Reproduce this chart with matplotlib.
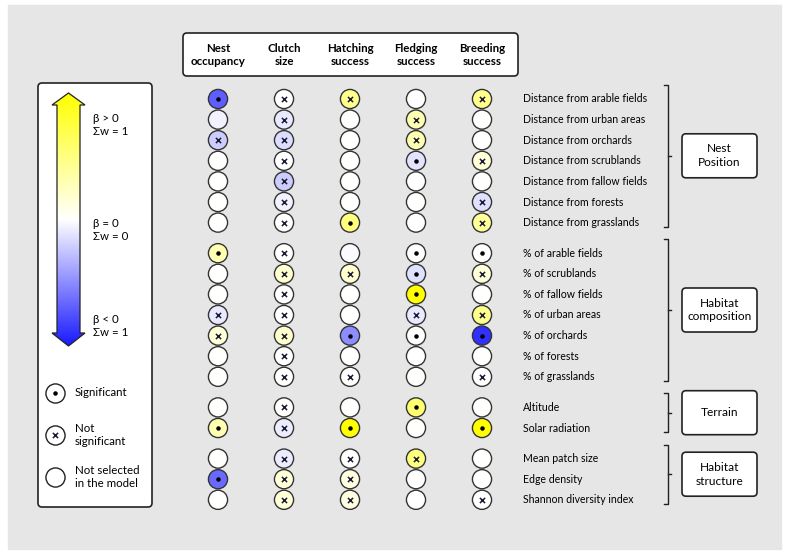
import numpy as np
import matplotlib
matplotlib.use("Agg")
import matplotlib.pyplot as plt
from matplotlib.patches import FancyBboxPatch, Polygon, Rectangle
from matplotlib.colors import LinearSegmentedColormap

plt.rcParams['font.family'] = ['Lato', 'DejaVu Sans']

responses = ["Nest\noccupancy", "Clutch\nsize", "Hatching\nsuccess",
             "Fledging\nsuccess", "Breeding\nsuccess"]

variables = ["Distance from arable fields", "Distance from urban areas",
             "Distance from orchards", "Distance from scrublands",
             "Distance from fallow fields", "Distance from forests",
             "Distance from grasslands",
             "% of arable fields", "% of scrublands", "% of fallow fields",
             "% of urban areas", "% of orchards", "% of forests",
             "% of grasslands",
             "Altitude", "Solar radiation",
             "Mean patch size", "Edge density", "Shannon diversity index"]

groups = ["Nest\nPosition", "Habitat\ncomposition", "Terrain", "Habitat\nstructure"]
group_sizes = [7, 7, 2, 3]

# signed effect colour: >0 yellow, <0 blue, 0 white
effect = {
    "Nest occupancy":   [-0.7, -0.06, -0.22, 0, 0, 0, 0,
                         0.3, 0, 0, -0.1, 0.15, 0, 0,
                         0, 0.3,
                         0, -0.65, 0],
    "Clutch size":      [0, -0.1, -0.15, 0, -0.22, -0.06, 0,
                         0, 0.18, 0, 0, 0.2, 0, 0,
                         0, -0.08,
                         -0.08, 0.15, 0.15],
    "Hatching success": [0.45, 0, 0, 0, 0, 0, 0.5,
                         -0.02, 0.18, 0, 0, -0.5, 0, 0,
                         0, 1.0,
                         0, 0.12, 0.12],
    "Fledging success": [0, 0.3, 0.3, -0.12, 0, 0, 0,
                         0, -0.14, 1.0, -0.1, 0, 0, 0,
                         0.55, 0,
                         0.5, 0, 0],
    "Breeding success": [0.45, 0, 0, 0.15, 0, -0.14, 0.4,
                         0, 0.15, 0, 0.45, -0.9, 0, 0,
                         0, 1.0,
                         0, 0, 0],
}

# "o" significant, "x" not significant, "" not selected in the model
signif = {
    "Nest occupancy":   ["o", "", "x", "", "", "", "",
                         "o", "", "", "x", "x", "", "",
                         "", "o",
                         "", "o", ""],
    "Clutch size":      ["x", "x", "x", "x", "x", "x", "x",
                         "x", "x", "x", "x", "x", "x", "x",
                         "x", "x",
                         "x", "x", "x"],
    "Hatching success": ["x", "", "", "", "", "", "o",
                         "", "x", "", "", "o", "", "x",
                         "", "o",
                         "x", "x", "x"],
    "Fledging success": ["", "x", "x", "o", "", "", "",
                         "o", "o", "o", "x", "o", "", "",
                         "o", "",
                         "x", "", ""],
    "Breeding success": ["x", "", "", "x", "", "x", "x",
                         "o", "x", "", "x", "o", "", "x",
                         "", "o",
                         "", "", "x"],
}

cmap = LinearSegmentedColormap.from_list("beta", ["#1a1aff", "#ffffff", "#ffff00"])

fig = plt.figure(figsize=(7.9, 5.52), dpi=100)
ax = fig.add_axes([0, 0, 1, 1])
ax.set_xlim(0, 790)
ax.set_ylim(552, 0)
ax.axis("off")

ax.add_patch(Rectangle((8, 5), 773, 544, color="#e6e6e6", zorder=0))

# layout
col_x0, col_dx = 218, 66
gap = 10
row_y = []
y = 99
for g, n in enumerate(group_sizes):
    for k in range(n):
        row_y.append(y)
        y += 20.6
    y += gap
row_y = np.array(row_y)

def rbox(x0, y0, x1, y1, lw=1.2):
    ax.add_patch(FancyBboxPatch((x0, y0), x1 - x0, y1 - y0,
                                boxstyle="round,pad=0,rounding_size=4",
                                fc="white", ec="#222222", lw=lw, zorder=1))

# header
rbox(183, 33, 518, 76)
for j, r in enumerate(responses):
    ax.text(col_x0 + j * col_dx, 55, r, ha="center", va="center",
            fontsize=8.3, fontweight="bold", linespacing=1.3)

# circles
for j, key in enumerate(effect):
    xs = np.full(len(variables), col_x0 + j * col_dx)
    cols = [cmap((v + 1) / 2) for v in effect[key]]
    ax.scatter(xs, row_y, s=190, c=cols, edgecolors="#333333", linewidths=1.0, zorder=3)
    m = np.array(signif[key])
    ax.scatter(xs[m == "o"], row_y[m == "o"], s=5, c="black", zorder=4)
    ax.scatter(xs[m == "x"], row_y[m == "x"], s=14, marker="x", c="#1a1a33",
               linewidths=1.1, zorder=4)

# row labels
for i, v in enumerate(variables):
    ax.text(523, row_y[i], v, ha="left", va="center", fontsize=7.6)

# brackets and group boxes
start = 0
for g, n in enumerate(group_sizes):
    top = row_y[start] - 14
    bot = row_y[start + n - 1] + 4
    bx = 668
    ax.plot([bx - 4, bx, bx, bx - 4], [top, top, bot, bot], c="#222222", lw=1.0)
    mid = (top + bot) / 2
    ax.plot([bx, bx + 3], [mid, mid], c="#222222", lw=1.0)
    rbox(682, mid - 22, 757, mid + 22)
    ax.text(719.5, mid, groups[g], ha="center", va="center", fontsize=8.6,
            linespacing=1.3)
    start += n

# legend box
rbox(38, 83, 152, 507)

cx, sh, hh = 68.5, 11.5, 16.5
top_tip, top_base, bot_base, bot_tip = 93, 105, 333, 346
arrow = Polygon([(cx, top_tip), (cx + hh, top_base), (cx + sh, top_base),
                 (cx + sh, bot_base), (cx + hh, bot_base), (cx, bot_tip),
                 (cx - hh, bot_base), (cx - sh, bot_base), (cx - sh, top_base),
                 (cx - hh, top_base)], closed=True, fc="none", ec="#222222",
                lw=0.9, zorder=3)
ax.add_patch(arrow)
grad = np.linspace(1, 0, 256).reshape(-1, 1)
im = ax.imshow(grad, cmap=cmap, vmin=0, vmax=1, aspect="auto",
               extent=[cx - hh, cx + hh, bot_tip, top_tip], zorder=2)
im.set_clip_path(arrow)

for yy, t in [(125, "β > 0\nΣw = 1"), (230, "β = 0\nΣw = 0"), (326, "β < 0\nΣw = 1")]:
    ax.text(93, yy, t, ha="left", va="center", fontsize=8.3, linespacing=1.3)

leg_y = [393, 435, 477]
leg_txt = ["Significant", "Not\nsignificant", "Not selected\nin the model"]
ax.scatter([55] * 3, leg_y, s=190, c="white", edgecolors="#222222", linewidths=1.0, zorder=3)
ax.scatter([55], [leg_y[0]], s=5, c="black", zorder=4)
ax.scatter([55], [leg_y[1]], s=14, marker="x", c="#1a1a33", linewidths=1.1, zorder=4)
for yy, t in zip(leg_y, leg_txt):
    ax.text(75, yy, t, ha="left", va="center", fontsize=8.3, linespacing=1.3)

fig.savefig("out.png", dpi=100, facecolor="white")
